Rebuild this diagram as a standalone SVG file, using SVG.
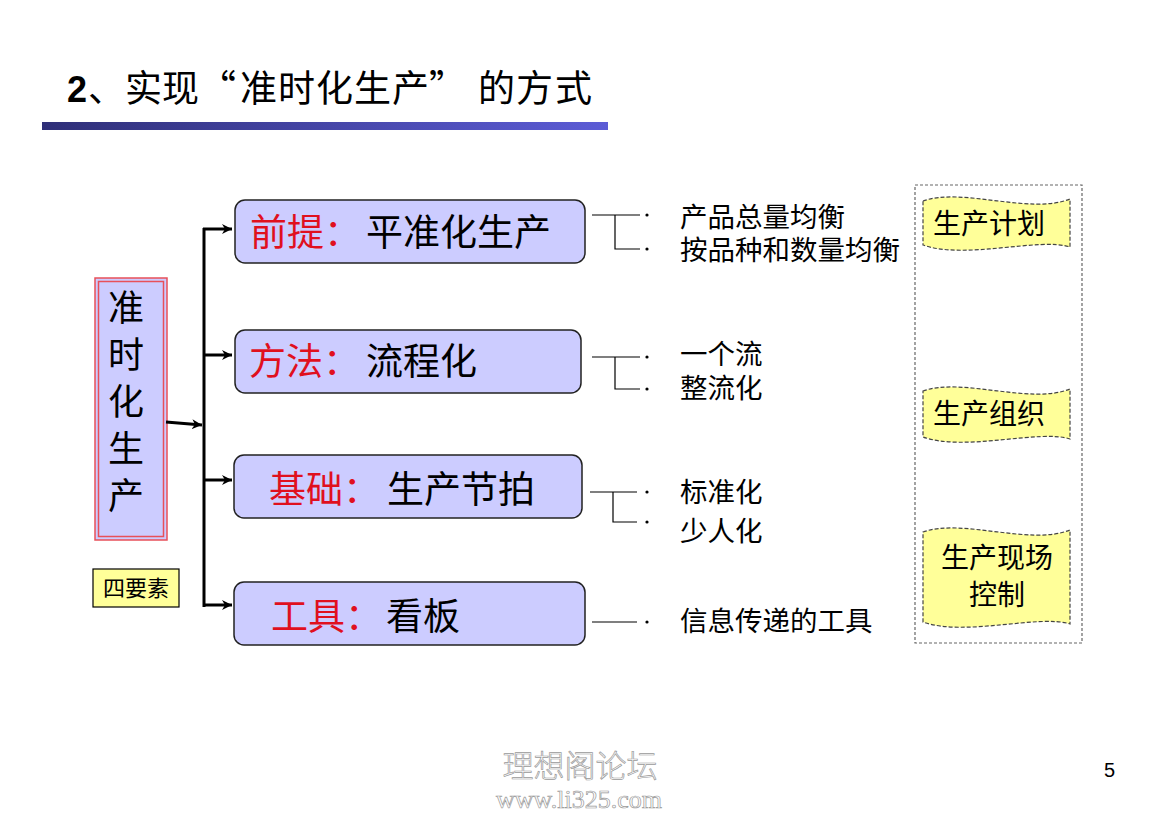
<svg xmlns="http://www.w3.org/2000/svg" width="1169" height="827" viewBox="0 0 1169 827">
<style>
.cn{font-family:"Noto Sans CJK SC","Liberation Sans",sans-serif;}
.box{fill:#ccccff;stroke:#222;stroke-width:1.5;}
.red{fill:#e0101e;}
.blk{fill:#000;}
.big{font-size:37px;}
.mid{font-size:27.5px;}
.ban{fill:#ffff99;stroke:#444;stroke-width:1.2;stroke-dasharray:4 2;}
.thin{fill:none;stroke:#000;stroke-width:1.2;}
.arr{fill:none;stroke:#000;stroke-width:3;marker-end:url(#ah);}
.dot{fill:#000;}
</style>
<defs>
<linearGradient id="bar" x1="0" y1="0" x2="1" y2="0">
<stop offset="0" stop-color="#2f2f78"/>
<stop offset="1" stop-color="#5c5cd6"/>
</linearGradient>
<marker id="ah" markerUnits="userSpaceOnUse" markerWidth="12" markerHeight="10" refX="10" refY="5" orient="auto">
<path d="M0,0 L10,5 L0,10 L3,5 Z" fill="#000"/>
</marker>
</defs>
<rect width="1169" height="827" fill="#fff"/>

<g id="title">
<text y="102" class="cn" font-size="37"><tspan x="67" font-family="Liberation Sans" font-weight="bold" font-size="36">2</tspan><tspan x="88">、</tspan><tspan x="125">实</tspan><tspan x="162">现</tspan><tspan x="199">“</tspan><tspan x="240">准</tspan><tspan x="278">时</tspan><tspan x="316">化</tspan><tspan x="354">生</tspan><tspan x="392">产</tspan><tspan x="429">”</tspan><tspan x="478">的</tspan><tspan x="516">方</tspan><tspan x="555">式</tspan></text>
<rect x="42" y="122" width="566" height="8" fill="url(#bar)"/>
</g>

<g id="main">
<rect x="95" y="278" width="72" height="262" fill="#ccccff" stroke="#e8505a" stroke-width="1.5"/>
<rect x="98.5" y="281.5" width="65" height="255" fill="none" stroke="#e8505a" stroke-width="1.5"/>
<text class="cn blk" font-size="36" text-anchor="middle"><tspan x="126" y="321">准</tspan><tspan x="126" y="368">时</tspan><tspan x="126" y="415">化</tspan><tspan x="126" y="462">生</tspan><tspan x="126" y="509">产</tspan></text>
</g>

<g id="four">
<rect x="93" y="569" width="86" height="38" fill="#ffff99" stroke="#000" stroke-width="1.2"/>
<text x="136" y="596" class="cn" font-size="22" text-anchor="middle">四要素</text>
</g>

<g id="connectors">
<line x1="166" y1="422" x2="202" y2="425" class="arr"/>
<line x1="204" y1="228" x2="204" y2="607" stroke="#000" stroke-width="3"/>
<line x1="203" y1="229" x2="232" y2="229" class="arr"/>
<line x1="203" y1="355" x2="232" y2="355" class="arr"/>
<line x1="203" y1="480" x2="232" y2="480" class="arr"/>
<line x1="203" y1="605" x2="232" y2="605" class="arr"/>
<path d="M592,215 H640 M615,215 V249 H640" class="thin"/>
<path d="M592,357 H640 M615,357 V389 H640" class="thin"/>
<path d="M590,492 H637 M613,492 V522 H637" class="thin"/>
<path d="M592,622 H637" class="thin"/>
</g>

<g id="n1">
<rect x="235" y="200" width="350" height="63" rx="10" class="box"/>
<text x="250" y="246" class="cn big red">前提：</text>
<text x="366" y="246" class="cn big blk">平准化生产</text>
</g>
<g id="n2">
<rect x="235" y="330" width="346" height="63" rx="10" class="box"/>
<text x="249" y="375" class="cn big red">方法：</text>
<text x="366" y="375" class="cn big blk">流程化</text>
</g>
<g id="n3">
<rect x="234" y="455" width="348" height="63" rx="10" class="box"/>
<text x="269" y="503" class="cn big red">基础：</text>
<text x="387" y="503" class="cn big blk">生产节拍</text>
</g>
<g id="n4">
<rect x="234" y="582" width="351" height="63" rx="10" class="box"/>
<text x="271" y="630" class="cn big red">工具：</text>
<text x="386" y="630" class="cn big blk">看板</text>
</g>

<g id="items" class="cn mid">
<circle cx="647" cy="215" r="1.6" class="dot"/><text x="680" y="227">产品总量均衡</text>
<circle cx="647" cy="249" r="1.6" class="dot"/><text x="680" y="260">按品种和数量均衡</text>
<circle cx="647" cy="357" r="1.6" class="dot"/><text x="680" y="364">一个流</text>
<circle cx="647" cy="389" r="1.6" class="dot"/><text x="680" y="398">整流化</text>
<circle cx="647" cy="492" r="1.6" class="dot"/><text x="680" y="502">标准化</text>
<circle cx="647" cy="522" r="1.6" class="dot"/><text x="680" y="541">少人化</text>
<circle cx="647" cy="622" r="1.6" class="dot"/><text x="680" y="631">信息传递的工具</text>
</g>

<g id="side">
<rect x="915" y="185" width="167" height="458" fill="none" stroke="#666" stroke-width="1.2" stroke-dasharray="3 2"/>
</g>
<g id="b1">
<path d="M923,201 C962,187 1030,215 1070,199 L1070,247 C1040,237 965,260 923,245 Z" class="ban"/>
<text x="933" y="234" class="cn" font-size="28">生产计划</text>
</g>
<g id="b2">
<path d="M923,391 C962,377 1030,405 1070,389 L1070,439 C1040,429 965,452 923,437 Z" class="ban"/>
<text x="933" y="424" class="cn" font-size="28">生产组织</text>
</g>
<g id="b3">
<path d="M923,532 C962,518 1030,546 1070,530 L1070,624 C1040,614 965,637 923,622 Z" class="ban"/>
<text x="997" y="568" class="cn" font-size="28" text-anchor="middle">生产现场</text>
<text x="997" y="605" class="cn" font-size="28" text-anchor="middle">控制</text>
</g>

<g id="footer">
<text x="580" y="777" class="cn" font-size="31" font-weight="300" text-anchor="middle" fill="#fff" stroke="#999" stroke-width="0.7">理想阁论坛</text>
<text x="579" y="808" font-family="Liberation Serif" font-size="26" text-anchor="middle" fill="#fff" stroke="#999" stroke-width="0.7">www.li325.com</text>
<text x="1104" y="777" font-family="Liberation Sans" font-size="20">5</text>
</g>
</svg>
